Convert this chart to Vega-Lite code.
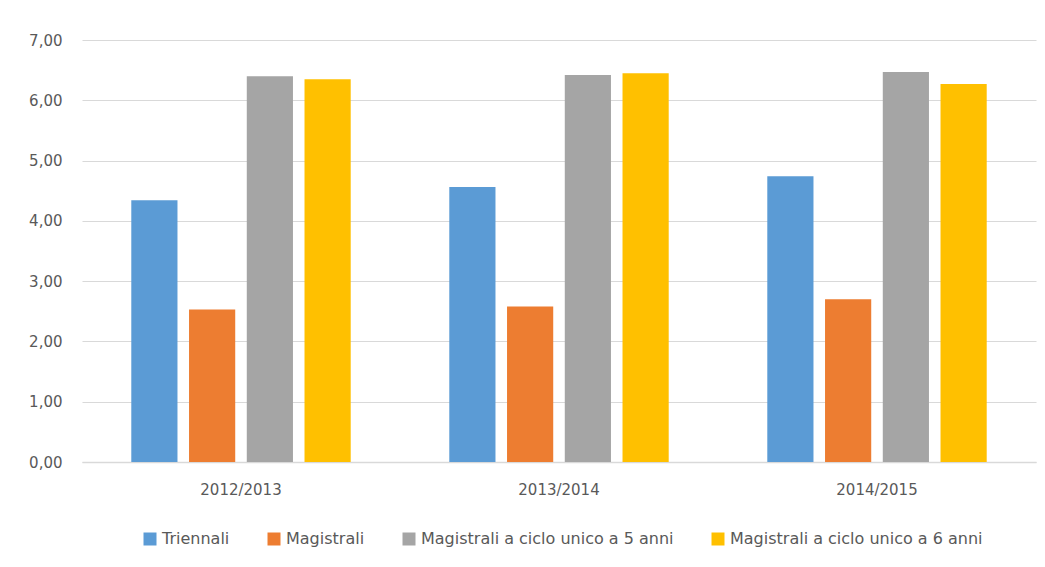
{
  "$schema": "https://vega.github.io/schema/vega-lite/v6.json",
  "autosize": {"type": "none"},
  "padding": {"left": 82, "top": 40, "right": 9, "bottom": 105},
  "width": 954,
  "height": 422,
  "background": "white",
  "data": {
    "values": [
      {"anno": "2012/2013", "tipo": "Triennali", "valore": 4.34},
      {"anno": "2012/2013", "tipo": "Magistrali", "valore": 2.53},
      {"anno": "2012/2013", "tipo": "Magistrali a ciclo unico a 5 anni", "valore": 6.40},
      {"anno": "2012/2013", "tipo": "Magistrali a ciclo unico a 6 anni", "valore": 6.35},
      {"anno": "2013/2014", "tipo": "Triennali", "valore": 4.56},
      {"anno": "2013/2014", "tipo": "Magistrali", "valore": 2.58},
      {"anno": "2013/2014", "tipo": "Magistrali a ciclo unico a 5 anni", "valore": 6.42},
      {"anno": "2013/2014", "tipo": "Magistrali a ciclo unico a 6 anni", "valore": 6.45},
      {"anno": "2014/2015", "tipo": "Triennali", "valore": 4.74},
      {"anno": "2014/2015", "tipo": "Magistrali", "valore": 2.70},
      {"anno": "2014/2015", "tipo": "Magistrali a ciclo unico a 5 anni", "valore": 6.47},
      {"anno": "2014/2015", "tipo": "Magistrali a ciclo unico a 6 anni", "valore": 6.27}
    ]
  },
  "mark": {"type": "bar"},
  "encoding": {
    "x": {
      "field": "anno",
      "type": "nominal",
      "title": null,
      "scale": {"paddingInner": 0.31, "paddingOuter": 0.155},
      "axis": {
        "labelAngle": 0,
        "ticks": false,
        "domainColor": "#D9D9D9",
        "domainWidth": 1.5,
        "labelPadding": 20,
        "labelFont": "DejaVu Sans",
        "labelFontSize": 15,
        "labelColor": "#595959",
        "grid": false
      }
    },
    "xOffset": {
      "field": "tipo",
      "type": "nominal",
      "sort": ["Triennali", "Magistrali", "Magistrali a ciclo unico a 5 anni", "Magistrali a ciclo unico a 6 anni"],
      "scale": {"paddingInner": 0.2, "paddingOuter": 0}
    },
    "y": {
      "field": "valore",
      "type": "quantitative",
      "title": null,
      "scale": {"domain": [0, 7], "nice": false},
      "axis": {
        "values": [0, 1, 2, 3, 4, 5, 6, 7],
        "labelExpr": "replace(format(datum.value, '.2f'), '.', ',')",
        "ticks": false,
        "domain": false,
        "gridColor": "#D9D9D9",
        "gridWidth": 1,
        "labelPadding": 20,
        "labelFont": "DejaVu Sans",
        "labelFontSize": 15,
        "labelColor": "#595959"
      }
    },
    "color": {
      "field": "tipo",
      "type": "nominal",
      "scale": {
        "domain": ["Triennali", "Magistrali", "Magistrali a ciclo unico a 5 anni", "Magistrali a ciclo unico a 6 anni"],
        "range": ["#5B9BD5", "#ED7D31", "#A5A5A5", "#FFC000"]
      },
      "legend": {
        "title": null,
        "orient": "none",
        "direction": "horizontal",
        "legendX": 60,
        "legendY": 491,
        "symbolType": "square",
        "symbolSize": 169,
        "symbolStrokeWidth": 0,
        "symbolOpacity": 1,
        "labelFont": "DejaVu Sans",
        "labelFontSize": 16,
        "labelColor": "#595959",
        "labelOffset": 4,
        "columnPadding": 36,
        "labelLimit": 400
      }
    }
  },
  "config": {
    "view": {"stroke": null}
  }
}
